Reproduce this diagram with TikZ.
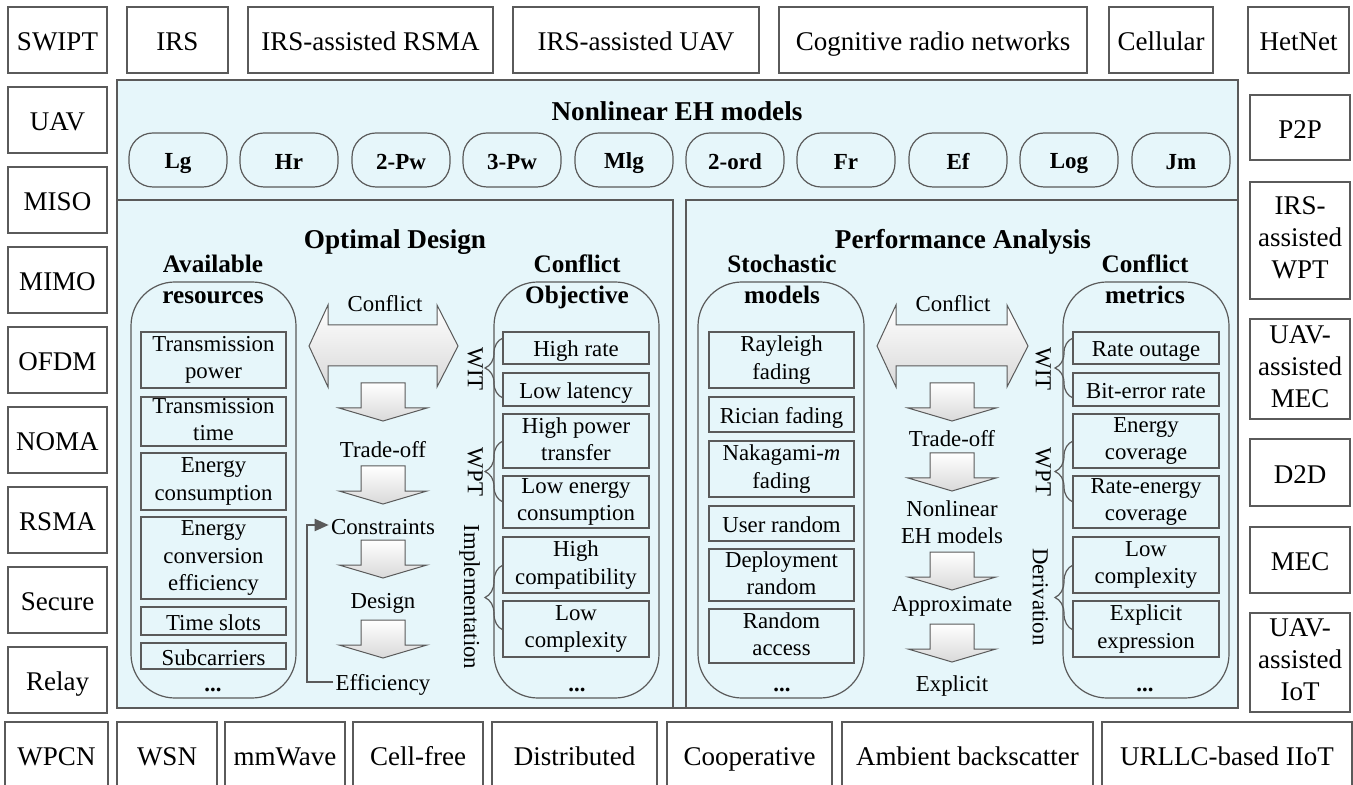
\documentclass[tikz,border=0pt]{standalone}
\usepackage{fontspec}
\setmainfont{Liberation Serif}
\usetikzlibrary{arrows.meta, decorations.pathreplacing}

\definecolor{panelblau}{RGB}{230,246,250}
\definecolor{rahmen}{RGB}{90,90,90}
\newcommand{\gross}{\fontsize{13.5}{16}\selectfont}
\newcommand{\klein}{\fontsize{11.4}{13.6}\selectfont}
\newcommand{\fett}{\bfseries\fontsize{13.6}{16}\selectfont}
\newcommand{\spalte}{\bfseries\fontsize{12.6}{15.5}\selectfont}
\newcommand{\pille}{\bfseries\fontsize{11.5}{13}\selectfont}
\newcommand{\stuetze}{\rule[-0.2em]{0pt}{1.2em}}

% Pfeil nach unten: x-Mitte, y-Oberkante
\newcommand{\pfeilrunter}[2]{%
	\draw [pfeil] (#1-22, #2) -- (#1+22, #2) -- (#1+22, #2+25) -- (#1+44, #2+25)
		-- (#1, #2+38) -- (#1-44, #2+25) -- (#1-22, #2+25) -- cycle;}
% Doppelpfeil: linke Spitze, rechte Spitze
\newcommand{\doppelpfeil}[2]{%
	\draw [pfeil] (#1, 346) -- (#1+19, 305) -- (#1+19, 325) -- (#2-21, 325) -- (#2-21, 305)
		-- (#2, 346) -- (#2-21, 387) -- (#2-21, 366) -- (#1+19, 366) -- (#1+19, 387) -- cycle;}

\tikzset{
	kasten/.style={draw=rahmen, line width=0.7pt},
	feld/.style={draw=rahmen, line width=0.7pt, fill=panelblau},
	pillenrand/.style={draw=rahmen, line width=0.6pt, rounded corners=12pt},
	saeule/.style={draw=rahmen, line width=0.6pt, rounded corners=22pt},
	pfeil/.style={draw=rahmen, line width=0.5pt, top color=white, bottom color=black!15},
	klammer/.style={draw=rahmen, line width=0.6pt, decorate, decoration={brace, amplitude=9pt}},
	rueck/.style={draw=rahmen, line width=1pt, -{Triangle[length=7pt, width=6pt]}},
	aussen/.style={font=\gross},
	titel/.style={font=\fett},
	kopf/.style={font=\spalte},
	pillentext/.style={font=\pille},
	punkte/.style={execute at begin node={}, execute at end node={}, inner sep=0pt},
}

\begin{document}
\begin{tikzpicture}[x=0.5pt, y=-0.5pt, every node/.style={align=center, font=\klein, inner sep=1pt,
		execute at begin node=\stuetze, execute at end node=\stuetze}]
	\useasboundingbox (0, 0) rectangle (1353, 785);
	% Obere Reihe
	\draw [kasten] (8, 7) rectangle ++ (99, 66) node [midway, aussen] (swipt) {SWIPT};
	\draw [kasten] (127, 7) rectangle ++ (101, 66) node [midway, aussen] (irs) {IRS};
	\draw [kasten] (248, 7) rectangle ++ (245, 66) node [midway, aussen] (irsrsma) {IRS-assisted RSMA};
	\draw [kasten] (513, 7) rectangle ++ (246, 66) node [midway, aussen] (irsuav) {IRS-assisted UAV};
	\draw [kasten] (779, 7) rectangle ++ (308, 66) node [midway, aussen] (crn) {Cognitive radio networks};
	\draw [kasten] (1109, 7) rectangle ++ (104, 66) node [midway, aussen] (cell) {Cellular};
	\draw [kasten] (1248, 7) rectangle ++ (101, 66) node [midway, aussen] (hetnet) {HetNet};
	% Linke Spalte
	\draw [kasten] (8, 87) rectangle ++ (99, 66) node [midway, aussen] (uav) {UAV};
	\draw [kasten] (8, 167) rectangle ++ (99, 66) node [midway, aussen] (miso) {MISO};
	\draw [kasten] (8, 247) rectangle ++ (99, 66) node [midway, aussen] (mimo) {MIMO};
	\draw [kasten] (8, 327) rectangle ++ (99, 66) node [midway, aussen] (ofdm) {OFDM};
	\draw [kasten] (8, 407) rectangle ++ (99, 66) node [midway, aussen] (noma) {NOMA};
	\draw [kasten] (8, 487) rectangle ++ (99, 66) node [midway, aussen] (rsma) {RSMA};
	\draw [kasten] (8, 567) rectangle ++ (99, 66) node [midway, aussen] (secure) {Secure};
	\draw [kasten] (8, 647) rectangle ++ (99, 66) node [midway, aussen] (relay) {Relay};
	% Rechte Spalte
	\draw [kasten] (1250, 95) rectangle ++ (100, 65) node [midway, aussen] (ptp) {P2P};
	\draw [kasten] (1250, 182) rectangle ++ (100, 117) node [midway, aussen] (irswpt) {IRS-\\assisted\\WPT};
	\draw [kasten] (1250, 319) rectangle ++ (100, 100) node [midway, aussen] (uavmec) {UAV-\\assisted\\MEC};
	\draw [kasten] (1250, 439) rectangle ++ (100, 67) node [midway, aussen] (dtd) {D2D};
	\draw [kasten] (1250, 527) rectangle ++ (100, 66) node [midway, aussen] (mec) {MEC};
	\draw [kasten] (1250, 613) rectangle ++ (100, 99) node [midway, aussen] (uaviot) {UAV-\\assisted\\IoT};
	% Untere Reihe
	\draw [kasten] (5, 722) rectangle ++ (103, 66) node [midway, aussen] (wpcn) {WPCN};
	\draw [kasten] (117, 722) rectangle ++ (100, 66) node [midway, aussen] (wsn) {WSN};
	\draw [kasten] (225, 722) rectangle ++ (120, 66) node [midway, aussen] (mmw) {mmWave};
	\draw [kasten] (353, 722) rectangle ++ (130, 66) node [midway, aussen] (cfree) {Cell-free};
	\draw [kasten] (492, 722) rectangle ++ (165, 66) node [midway, aussen] (distr) {Distributed};
	\draw [kasten] (667, 722) rectangle ++ (165, 66) node [midway, aussen] (coop) {Cooperative};
	\draw [kasten] (842, 722) rectangle ++ (251, 66) node [midway, aussen] (ambc) {Ambient backscatter};
	\draw [kasten] (1102, 722) rectangle ++ (250, 66) node [midway, aussen] (urllc) {URLLC-based IIoT};
	% Mittleres Feld
	\draw [feld] (117, 80) rectangle (1238, 708);
	\draw [feld] (117, 200) rectangle (673, 708);
	\draw [feld] (686, 200) rectangle (1238, 708);
	\node [titel] (nleh) at (677, 110) {Nonlinear EH models};
	% EH-Modelle
	\draw [pillenrand] (129, 133) rectangle ++ (98, 54) node [midway, pillentext] (lg) {Lg};
	\draw [pillenrand] (240, 133) rectangle ++ (98, 54) node [midway, pillentext] (hr) {Hr};
	\draw [pillenrand] (352, 133) rectangle ++ (98, 54) node [midway, pillentext] (pwzwei) {2-Pw};
	\draw [pillenrand] (463, 133) rectangle ++ (98, 54) node [midway, pillentext] (pwdrei) {3-Pw};
	\draw [pillenrand] (575, 133) rectangle ++ (98, 54) node [midway, pillentext] (mlg) {Mlg};
	\draw [pillenrand] (686, 133) rectangle ++ (98, 54) node [midway, pillentext] (ord) {2-ord};
	\draw [pillenrand] (797, 133) rectangle ++ (98, 54) node [midway, pillentext] (fr) {Fr};
	\draw [pillenrand] (909, 133) rectangle ++ (98, 54) node [midway, pillentext] (ef) {Ef};
	\draw [pillenrand] (1020, 133) rectangle ++ (98, 54) node [midway, pillentext] (log) {Log};
	\draw [pillenrand] (1132, 133) rectangle ++ (98, 54) node [midway, pillentext] (jm) {Jm};
	% Optimal Design
	\node [titel] (odes) at (395, 238) {Optimal Design};
	\draw [saeule] (131, 282) rectangle (296, 698);
	\node [kopf] (avres) at (213, 282) {Available\\resources};
	\draw [kasten] (141, 332) rectangle (286, 388) node [midway] (tpow) {Transmission\\power};
	\draw [kasten] (141, 397) rectangle (286, 446) node [midway] (ttime) {Transmission\\time};
	\draw [kasten] (141, 453) rectangle (286, 510) node [midway] (econ) {Energy\\consumption};
	\draw [kasten] (141, 517) rectangle (286, 599) node [midway] (eeff) {Energy\\conversion\\efficiency};
	\draw [kasten] (141, 607) rectangle (286, 635) node [midway] (tslot) {Time slots};
	\draw [kasten] (141, 643) rectangle (286, 669) node [midway] (subc) {Subcarriers};
	\node [punkte] (dotsa) at (213, 682) {\textbf{...}};
	\draw [saeule] (494, 282) rectangle (659, 698);
	\node [kopf] (cobj) at (577, 282) {Conflict\\Objective};
	\draw [kasten] (503, 332) rectangle (649, 364) node [midway] (hrate) {High rate};
	\draw [kasten] (503, 373) rectangle (649, 406) node [midway] (llat) {Low latency};
	\draw [kasten] (503, 414) rectangle (649, 468) node [midway] (hpow) {High power\\transfer};
	\draw [kasten] (503, 476) rectangle (649, 528) node [midway] (lecon) {Low energy\\consumption};
	\draw [kasten] (503, 537) rectangle (649, 593) node [midway] (hcomp) {High\\compatibility};
	\draw [kasten] (503, 601) rectangle (649, 657) node [midway] (lcomp) {Low\\complexity};
	\node [punkte] (dotsb) at (577, 682) {\textbf{...}};
	% Klammern links
	\draw [klammer] (503, 398) -- (503, 338);
	\draw [klammer] (503, 502) -- (503, 441);
	\draw [klammer] (503, 630) -- (503, 565);
	\node [rotate=-90] (witl) at (477, 369) {WIT};
	\node [rotate=-90] (wptl) at (477, 472) {WPT};
	\node [rotate=-90] (impl) at (473, 597) {Implementation};
	% Pfeile links
	\doppelpfeil{309}{458}
	\node (confl) at (385, 302) {Conflict};
	\pfeilrunter{383}{383}
	\node (tradel) at (383, 448) {Trade-off};
	\pfeilrunter{383}{466}
	\node (cons) at (383, 525) {Constraints};
	\pfeilrunter{383}{540}
	\node (desi) at (383, 600) {Design};
	\pfeilrunter{383}{620}
	\node (effi) at (383, 682) {Efficiency};
	\draw [rueck] (effi.west) -- ++ (-26, 0) |- (cons.west);
	% Performance Analysis
	\node [titel] (perf) at (963, 238) {Performance Analysis};
	\draw [saeule] (698, 282) rectangle (864, 698);
	\node [kopf] (stoch) at (782, 282) {Stochastic\\models};
	\draw [kasten] (709, 332) rectangle (854, 388) node [midway] (rayl) {Rayleigh\\fading};
	\draw [kasten] (709, 397) rectangle (854, 432) node [midway] (rice) {Rician fading};
	\draw [kasten] (709, 441) rectangle (854, 497) node [midway] (naka) {Nakagami-\textit{m}\\fading};
	\draw [kasten] (709, 506) rectangle (854, 541) node [midway] (urand) {User random};
	\draw [kasten] (709, 549) rectangle (854, 601) node [midway] (drand) {Deployment\\random};
	\draw [kasten] (709, 609) rectangle (854, 663) node [midway] (racc) {Random\\access};
	\node [punkte] (dotsc) at (782, 682) {\textbf{...}};
	\draw [saeule] (1063, 282) rectangle (1229, 698);
	\node [kopf] (cmet) at (1145, 282) {Conflict\\metrics};
	\draw [kasten] (1073, 332) rectangle (1219, 364) node [midway] (rout) {Rate outage};
	\draw [kasten] (1073, 373) rectangle (1219, 406) node [midway] (ber) {Bit-error rate};
	\draw [kasten] (1073, 414) rectangle (1219, 468) node [midway] (ecov) {Energy\\coverage};
	\draw [kasten] (1073, 476) rectangle (1219, 528) node [midway] (recov) {Rate-energy\\coverage};
	\draw [kasten] (1073, 537) rectangle (1219, 593) node [midway] (lcplx) {Low\\complexity};
	\draw [kasten] (1073, 601) rectangle (1219, 657) node [midway] (expl) {Explicit\\expression};
	\node [punkte] (dotsd) at (1145, 682) {\textbf{...}};
	% Klammern rechts
	\draw [klammer] (1073, 398) -- (1073, 338);
	\draw [klammer] (1073, 502) -- (1073, 441);
	\draw [klammer] (1073, 630) -- (1073, 565);
	\node [rotate=-90] (witr) at (1045, 369) {WIT};
	\node [rotate=-90] (wptr) at (1045, 472) {WPT};
	\node [rotate=-90] (deriv) at (1042, 597) {Derivation};
	% Pfeile rechts
	\doppelpfeil{877}{1028}
	\node (confr) at (953, 302) {Conflict};
	\pfeilrunter{952}{383}
	\node (trader) at (952, 437) {Trade-off};
	\pfeilrunter{952}{453}
	\node (nlehm) at (952, 524) {Nonlinear\\EH models};
	\pfeilrunter{952}{552}
	\node (appr) at (952, 603) {Approximate};
	\pfeilrunter{952}{624}
	\node (explc) at (952, 683) {Explicit};
\end{tikzpicture}
\end{document}
